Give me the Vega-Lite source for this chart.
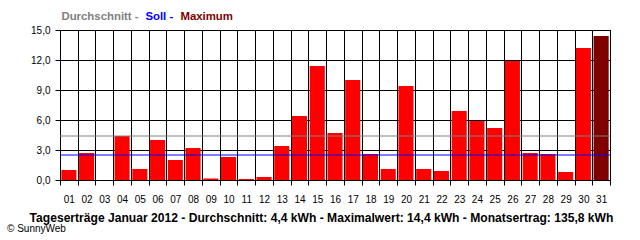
{
  "$schema": "https://vega.github.io/schema/vega-lite/v6.json",
  "width": 550,
  "height": 150,
  "autosize": {"type": "none"},
  "padding": {"left": 60, "top": 30, "right": 30, "bottom": 60},
  "background": "white",
  "config": {
    "view": {"stroke": "black", "strokeWidth": 1},
    "font": "Liberation Sans"
  },
  "title": {
    "text": "© SunnyWeb",
    "orient": "bottom",
    "anchor": "start",
    "frame": "group",
    "dx": -53,
    "offset": 1,
    "fontSize": 10,
    "fontWeight": "normal",
    "color": "black",
    "font": "Liberation Sans"
  },
  "datasets": {
    "days": [
      {"day": "01", "kwh": 1.0}, {"day": "02", "kwh": 2.7}, {"day": "03", "kwh": 0},
      {"day": "04", "kwh": 4.4}, {"day": "05", "kwh": 1.1}, {"day": "06", "kwh": 4.0},
      {"day": "07", "kwh": 2.0}, {"day": "08", "kwh": 3.2}, {"day": "09", "kwh": 0.15},
      {"day": "10", "kwh": 2.3}, {"day": "11", "kwh": 0.1}, {"day": "12", "kwh": 0.3},
      {"day": "13", "kwh": 3.4}, {"day": "14", "kwh": 6.4}, {"day": "15", "kwh": 11.4},
      {"day": "16", "kwh": 4.7}, {"day": "17", "kwh": 10.0}, {"day": "18", "kwh": 2.6},
      {"day": "19", "kwh": 1.1}, {"day": "20", "kwh": 9.4}, {"day": "21", "kwh": 1.1},
      {"day": "22", "kwh": 0.9}, {"day": "23", "kwh": 6.9}, {"day": "24", "kwh": 5.9},
      {"day": "25", "kwh": 5.2}, {"day": "26", "kwh": 11.9}, {"day": "27", "kwh": 2.7},
      {"day": "28", "kwh": 2.6}, {"day": "29", "kwh": 0.8}, {"day": "30", "kwh": 13.2},
      {"day": "31", "kwh": 14.4}
    ],
    "lines": [
      {"label": "Durchschnitt -", "kwh": 4.4},
      {"label": "Soll -", "kwh": 2.5}
    ]
  },
  "layer": [
    {
      "data": {"name": "days"},
      "mark": {"type": "bar", "width": {"band": 0.85}},
      "encoding": {
        "x": {
          "field": "day",
          "type": "ordinal",
          "scale": {"paddingInner": 0, "paddingOuter": 0},
          "axis": {
            "title": "Tageserträge Januar 2012 - Durchschnitt: 4,4 kWh - Maximalwert: 14,4 kWh - Monatsertrag: 135,8 kWh",
            "titleFont": "Liberation Sans",
            "titleFontWeight": "bold",
            "titleFontSize": 12.1,
            "titleColor": "black",
            "titleX": 261,
            "titleY": 31,
            "titleBaseline": "top",
            "titleAlign": "center",
            "labelAngle": 0,
            "labelFontSize": 10,
            "labelColor": "black",
            "labelPadding": 9,
            "tickSize": 5,
            "tickColor": "black",
            "tickBand": "extent",
            "domainColor": "black",
            "grid": true,
            "gridColor": "black",
            "gridOpacity": 1
          }
        },
        "y": {
          "field": "kwh",
          "type": "quantitative",
          "scale": {"domain": [0, 15], "nice": false},
          "axis": {
            "title": null,
            "values": [0, 3, 6, 9, 12, 15],
            "tickCount": 10,
            "labelOverlap": false,
            "labelExpr": "replace(format(datum.value, '.1f'), '.', ',')",
            "labelFontSize": 10,
            "labelColor": "black",
            "labelPadding": 5,
            "tickSize": 5,
            "tickColor": "black",
            "domainColor": "black",
            "grid": true,
            "gridColor": "black",
            "gridOpacity": 1
          }
        },
        "color": {
          "condition": {"test": "datum.kwh >= 14.4", "value": "#800000"},
          "value": "#ff0000"
        }
      }
    },
    {
      "data": {"name": "lines"},
      "mark": {"type": "rule", "strokeWidth": 1},
      "encoding": {
        "y": {"field": "kwh", "type": "quantitative"},
        "color": {
          "field": "label",
          "type": "nominal",
          "scale": {
            "domain": ["Durchschnitt -", "Soll -", "Maximum"],
            "range": ["#808080", "#0000ff", "#800000"]
          },
          "legend": {
            "orient": "none",
            "legendX": -4,
            "legendY": -19,
            "direction": "horizontal",
            "title": null,
            "symbolType": "circle",
            "symbolSize": 0,
            "symbolStrokeWidth": 0,
            "symbolOpacity": 0,
            "labelOffset": -6,
            "columnPadding": 1,
            "padding": 0,
            "labelFont": "Liberation Sans",
            "labelFontSize": 11.4,
            "labelFontWeight": "bold",
            "labelLimit": 0,
            "labelColor": {"expr": "datum.value == 'Soll -' ? '#0000ff' : (datum.value == 'Maximum' ? '#800000' : '#808080')"}
          }
        }
      }
    }
  ]
}
